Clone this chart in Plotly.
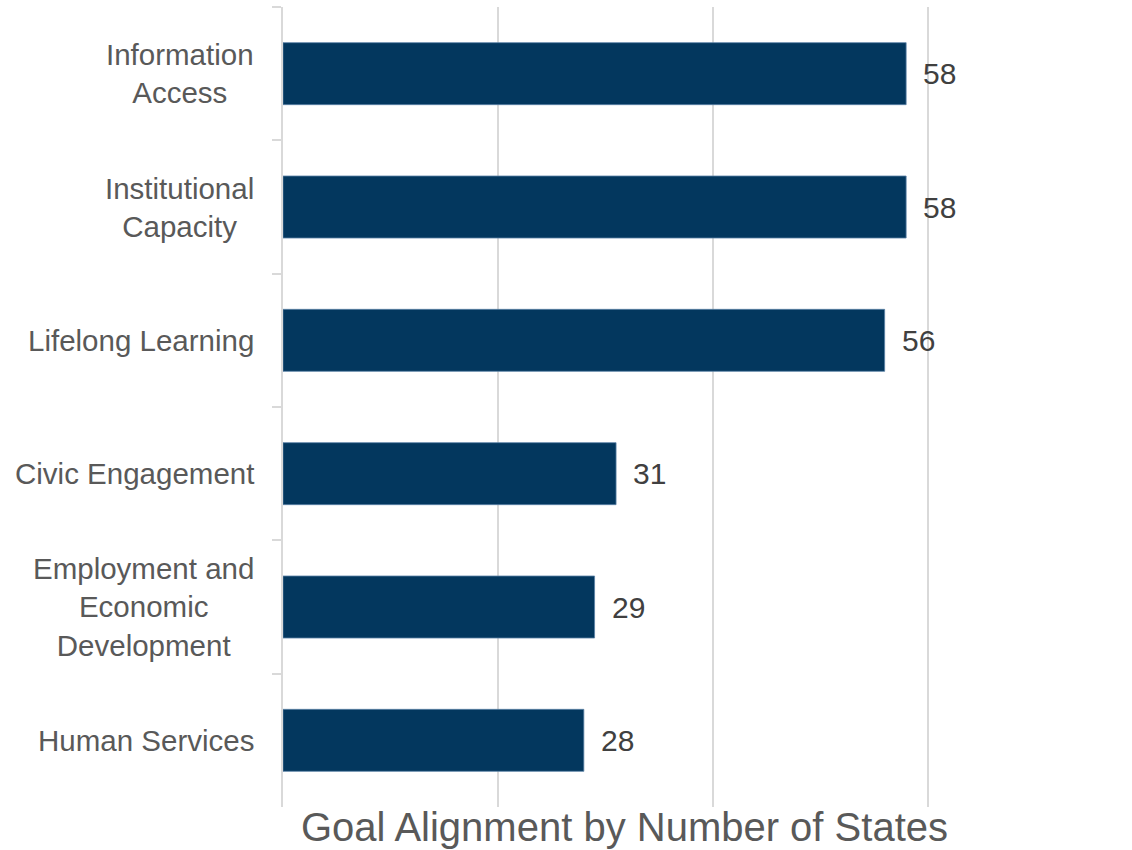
import plotly.graph_objects as go

# Goal areas, top to bottom, and the number of states aligned with each
categories = [
    "Information Access",
    "Institutional Capacity",
    "Lifelong Learning",
    "Civic Engagement",
    "Employment and Economic Development",
    "Human Services",
]
category_labels = [
    "Information<br>Access",
    "Institutional<br>Capacity",
    "Lifelong Learning",
    "Civic Engagement",
    "Employment and<br>Economic<br>Development",
    "Human Services",
]
states = [58, 58, 56, 31, 29, 28]
grid_ticks = [0, 20, 40, 60]
axis_title = "Goal Alignment by Number of States"

FONT = "Liberation Sans, Arial, sans-serif"
BAR = "#03375E"
GRID = "#D9D9D9"

fig = go.Figure(
    go.Bar(
        x=states,
        y=categories,
        orientation="h",
        width=0.465,
        marker=dict(color=BAR, line=dict(color="#5A82A6", width=0.8)),
        hoverinfo="x+y",
    )
)

# Category labels, centred line by line to the left of the axis
for cat, lab in zip(categories, category_labels):
    fig.add_annotation(
        x=0, xref="paper", xanchor="right", xshift=-27,
        y=cat, yref="y", yanchor="middle",
        text=lab, align="center", showarrow=False,
        font=dict(family=FONT, size=29.5, color="#595959"),
    )

# Value labels at the end of each bar
for cat, v in zip(categories, states):
    fig.add_annotation(
        x=v, xref="x", xanchor="left", xshift=15,
        y=cat, yref="y", yanchor="middle",
        text=str(v), showarrow=False,
        font=dict(family=FONT, size=30, color="#404040"),
    )

# Axis title below the plot
fig.add_annotation(
    x=0.526, xref="paper", xanchor="center",
    y=-0.025, yref="paper", yanchor="middle",
    text=axis_title, showarrow=False,
    font=dict(family=FONT, size=40, color="#595959"),
)

fig.update_layout(
    width=1132,
    height=850,
    margin=dict(l=283, r=199, t=7, b=43),
    paper_bgcolor="white",
    plot_bgcolor="white",
    showlegend=False,
    xaxis=dict(
        range=[0, 60.5],
        tickvals=grid_ticks,
        showticklabels=False,
        showgrid=True,
        gridcolor=GRID,
        gridwidth=1.5,
        zeroline=False,
        showline=False,
        ticks="",
        fixedrange=True,
    ),
    yaxis=dict(
        type="category",
        categoryorder="array",
        categoryarray=categories,
        autorange="reversed",
        showticklabels=False,
        showline=True,
        linecolor=GRID,
        linewidth=1.5,
        ticks="outside",
        tickson="boundaries",
        ticklen=9,
        tickcolor=GRID,
        tickwidth=1.5,
        showgrid=False,
        zeroline=False,
        fixedrange=True,
    ),
)

fig.write_html("out.html")
